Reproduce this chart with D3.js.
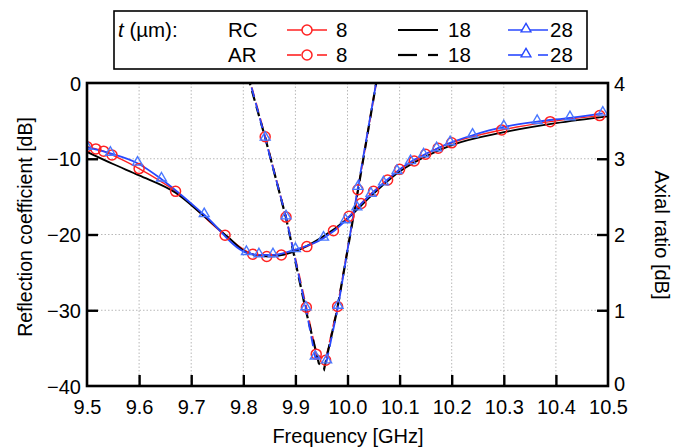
<!DOCTYPE html>
<html>
<head>
<meta charset="utf-8">
<script src="https://cdn.jsdelivr.net/npm/d3@7"></script>
<style>
  body { margin: 0; background: #fff; }
  text { font-family: "Liberation Sans", Arial, sans-serif; fill: #000; }
</style>
</head>
<body>
<div id="chart"></div>
<script>
// reflection coefficient (left axis, dB) : [frequency GHz, value]
const rc8 = [[9.500,-8.4],[9.517,-8.7],[9.532,-9.0],[9.548,-9.5],[9.600,-11.3],[9.670,-14.3],[9.765,-20.1],[9.818,-22.6],[9.845,-22.9],[9.873,-22.7],[9.922,-21.6],[9.973,-19.5],[10.003,-17.6],[10.026,-15.9],[10.050,-14.3],[10.077,-12.8],[10.100,-11.4],[10.128,-10.3],[10.150,-9.4],[10.174,-8.6],[10.200,-7.9],[10.296,-6.2],[10.389,-5.1],[10.484,-4.3]];
const rc18 = [[9.500,-9.1],[9.550,-10.7],[9.600,-12.2],[9.670,-14.5],[9.720,-17.3],[9.770,-20.3],[9.810,-22.5],[9.850,-22.9],[9.900,-22.2],[9.950,-20.4],[10.000,-17.9],[10.050,-14.6],[10.100,-11.7],[10.150,-9.7],[10.200,-8.2],[10.300,-6.5],[10.400,-5.3],[10.500,-4.4]];
const rc28 = [[9.500,-8.5],[9.545,-9.3],[9.597,-10.6],[9.643,-12.7],[9.725,-17.4],[9.806,-22.4],[9.830,-22.7],[9.857,-22.7],[9.900,-22.0],[9.954,-20.5],[9.996,-18.2],[10.018,-16.5],[10.045,-14.7],[10.069,-13.2],[10.095,-11.7],[10.121,-10.4],[10.146,-9.5],[10.171,-8.7],[10.197,-7.9],[10.240,-6.9],[10.300,-5.8],[10.364,-5.1],[10.427,-4.6],[10.490,-4.0]];

// axial ratio (right axis, dB)
const ar8 = [[9.800,4.35],[9.842,3.29],[9.882,2.23],[9.921,1.04],[9.940,0.42],[9.958,0.34],[9.981,1.05],[10.020,2.59],[10.060,4.2]];
const ar18 = [[9.800,4.3],[9.842,3.28],[9.882,2.22],[9.920,1.0],[9.945,0.30],[9.955,0.22],[9.980,1.0],[10.020,2.58],[10.060,4.2]];
const ar28 = [[9.800,4.35],[9.842,3.27],[9.882,2.23],[9.920,1.03],[9.938,0.38],[9.960,0.33],[9.982,1.05],[10.020,2.62],[10.060,4.2]];

const xTicks = [9.5, 9.6, 9.7, 9.8, 9.9, 10.0, 10.1, 10.2, 10.3, 10.4, 10.5];
const yTicks = [0, -10, -20, -30, -40];
const y2Ticks = [0, 1, 2, 3, 4];
const thickness = ['8', '18', '28'];

const W = 675, H = 447;
const margin = { top: 83, right: 67, bottom: 61, left: 87 };
const red = '#ff2222', blue = '#2848ff', blueMk = '#4a78ff';
const FS = '20px';

const svg = d3.select('#chart').append('svg')
  .attr('width', W).attr('height', H);

const x = d3.scaleLinear().domain([9.5, 10.5]).range([margin.left, W - margin.right]);
const y = d3.scaleLinear().domain([-40, 0]).range([H - margin.bottom, margin.top]);
const y2 = d3.scaleLinear().domain([0, 4]).range([H - margin.bottom, margin.top]);

svg.append('clipPath').attr('id', 'clip').append('rect')
  .attr('x', margin.left).attr('y', margin.top)
  .attr('width', x(10.5) - x(9.5)).attr('height', y(-40) - y(0));

// grid
const grid = svg.append('g').attr('stroke', '#b8b8b8').attr('stroke-width', 1).attr('stroke-dasharray', '1.5,2');
grid.selectAll('.gx').data(xTicks.slice(1, -1)).join('line')
  .attr('x1', d => x(d)).attr('x2', d => x(d)).attr('y1', y(0)).attr('y2', y(-40));
grid.selectAll('.gy').data(yTicks.slice(1, -1)).join('line')
  .attr('y1', d => y(d)).attr('y2', d => y(d)).attr('x1', x(9.5)).attr('x2', x(10.5));

// axes
const xAxis = svg.append('g').attr('transform', `translate(0,${y(-40)})`)
  .call(d3.axisBottom(x).tickValues(xTicks).tickSize(-11).tickFormat(d3.format('.1f')));
const yAxis = svg.append('g').attr('transform', `translate(${x(9.5)},0)`)
  .call(d3.axisLeft(y).tickValues(yTicks).tickSize(-11).tickPadding(6).tickFormat(d3.format('d')));
const y2Axis = svg.append('g').attr('transform', `translate(${x(10.5)},0)`)
  .call(d3.axisRight(y2).tickValues(y2Ticks).tickSize(-11).tickPadding(6).tickFormat(d3.format('d')));
[xAxis, yAxis, y2Axis].forEach(a => {
  a.select('.domain').remove();
  a.selectAll('.tick line').attr('stroke-width', 2.4);
  a.selectAll('.tick text').style('font-size', FS).style('font-family', '"Liberation Sans", Arial, sans-serif');
});
yAxis.selectAll('.tick text').attr('dy', '0.36em');
y2Axis.selectAll('.tick text').attr('dy', d => d === 0 ? '0.2em' : '0.36em');
xAxis.selectAll('.tick text').attr('y', 28).attr('dy', 0);
// hide ticks at frame ends
xAxis.selectAll('.tick').filter(d => d === 9.5 || d === 10.5).select('line').remove();
yAxis.selectAll('.tick').filter(d => d === 0 || d === -40).select('line').remove();
y2Axis.selectAll('.tick').filter(d => d === 0 || d === 4).select('line').remove();

// curves
const plot = svg.append('g').attr('clip-path', 'url(#clip)');
const lineRC = d3.line().x(d => x(d[0])).y(d => y(d[1])).curve(d3.curveMonotoneX);
const lineAR = d3.line().x(d => x(d[0])).y(d => y2(d[1]));

const series = [
  { data: rc8, line: lineRC, color: red, width: 1.4, dash: null },
  { data: rc18, line: lineRC, color: '#000', width: 1.8, dash: null },
  { data: rc28, line: lineRC, color: blue, width: 1.8, dash: null },
  { data: ar8, line: lineAR, color: red, width: 1.8, dash: '10,6' },
  { data: ar18, line: lineAR, color: '#000', width: 2.2, dash: '10,6' },
  { data: ar28, line: lineAR, color: blue, width: 1.8, dash: '10,6' }
];
series.forEach(s => {
  plot.append('path').datum(s.data)
    .attr('d', s.line).attr('fill', 'none')
    .attr('stroke', s.color).attr('stroke-width', s.width)
    .attr('stroke-dasharray', s.dash);
});

const tri = d3.symbol().type(d3.symbolTriangle).size(42);
function circles(data, yy) {
  plot.append('g').selectAll('circle').data(data.filter(d => yy.domain()[1] >= d[1])).join('circle')
    .attr('cx', d => x(d[0])).attr('cy', d => yy(d[1])).attr('r', 5)
    .attr('fill', 'none').attr('stroke', red).attr('stroke-width', 1.5);
}
function triangles(data, yy) {
  plot.append('g').selectAll('path').data(data.filter(d => yy.domain()[1] >= d[1])).join('path')
    .attr('d', tri).attr('transform', d => `translate(${x(d[0])},${yy(d[1]) - 1})`)
    .attr('fill', 'none').attr('stroke', blueMk).attr('stroke-width', 1.4);
}
circles(rc8, y);
triangles(rc28, y);
circles(ar8, y2);
triangles(ar28, y2);

// frame
svg.append('rect')
  .attr('x', x(9.5)).attr('y', y(0))
  .attr('width', x(10.5) - x(9.5)).attr('height', y(-40) - y(0))
  .attr('fill', 'none').attr('stroke', '#000').attr('stroke-width', 2.6);

// axis titles
svg.append('text').attr('x', 348).attr('y', 443)
  .attr('text-anchor', 'middle').style('font-size', FS).text('Frequency [GHz]');
svg.append('text').attr('transform', `translate(32,227) rotate(-90)`)
  .attr('text-anchor', 'middle').style('font-size', '19.5px').text('Reflection coefficient [dB]');
svg.append('text').attr('transform', `translate(655,235) rotate(90)`)
  .attr('text-anchor', 'middle').style('font-size', FS).text('Axial ratio [dB]');

// legend
const LFS = '20.5px';
const lg = svg.append('g');
lg.append('rect').attr('x', 114).attr('y', 11).attr('width', 473).attr('height', 58)
  .attr('fill', '#fff').attr('stroke', '#000').attr('stroke-width', 1.6);
const t0 = lg.append('text').attr('x', 118).attr('y', 37).style('font-size', LFS);
t0.append('tspan').style('font-style', 'italic').text('t');
t0.append('tspan').text(' (\u00b5m):');
const rows = [{ label: 'RC', y: 30, dashed: false }, { label: 'AR', y: 55, dashed: true }];
const cols = [
  { x0: 287, color: red, mark: 'circle', name: thickness[0] },
  { x0: 398, color: '#000', mark: null, name: thickness[1] },
  { x0: 508, color: blue, mark: 'tri', name: thickness[2] }
];
rows.forEach(r => {
  lg.append('text').attr('x', 228).attr('y', r.y + 7).style('font-size', LFS).text(r.label);
  cols.forEach(c => {
    const segs = r.dashed ? [[0, c.mark ? 14 : 19], [30, 40]] : [[0, 40]];
    segs.forEach(sg => lg.append('line')
      .attr('x1', c.x0 + sg[0]).attr('x2', c.x0 + sg[1]).attr('y1', r.y).attr('y2', r.y)
      .attr('stroke', c.color).attr('stroke-width', c.color === '#000' ? 2.2 : 1.6));
    if (c.mark === 'circle') {
      lg.append('circle').attr('cx', c.x0 + 20).attr('cy', r.y).attr('r', 5)
        .attr('fill', '#fff').attr('stroke', c.color).attr('stroke-width', 1.5);
    } else if (c.mark === 'tri') {
      lg.append('path').attr('d', tri).attr('transform', `translate(${c.x0 + 18},${r.y - 1})`)
        .attr('fill', '#fff').attr('stroke', c.color).attr('stroke-width', 1.4);
    }
    lg.append('text').attr('x', c.x0 + (c.mark === 'circle' ? 49 : c.mark ? 42 : 50)).attr('y', r.y + 7)
      .style('font-size', LFS).text(c.name);
  });
});
</script>
</body>
</html>
